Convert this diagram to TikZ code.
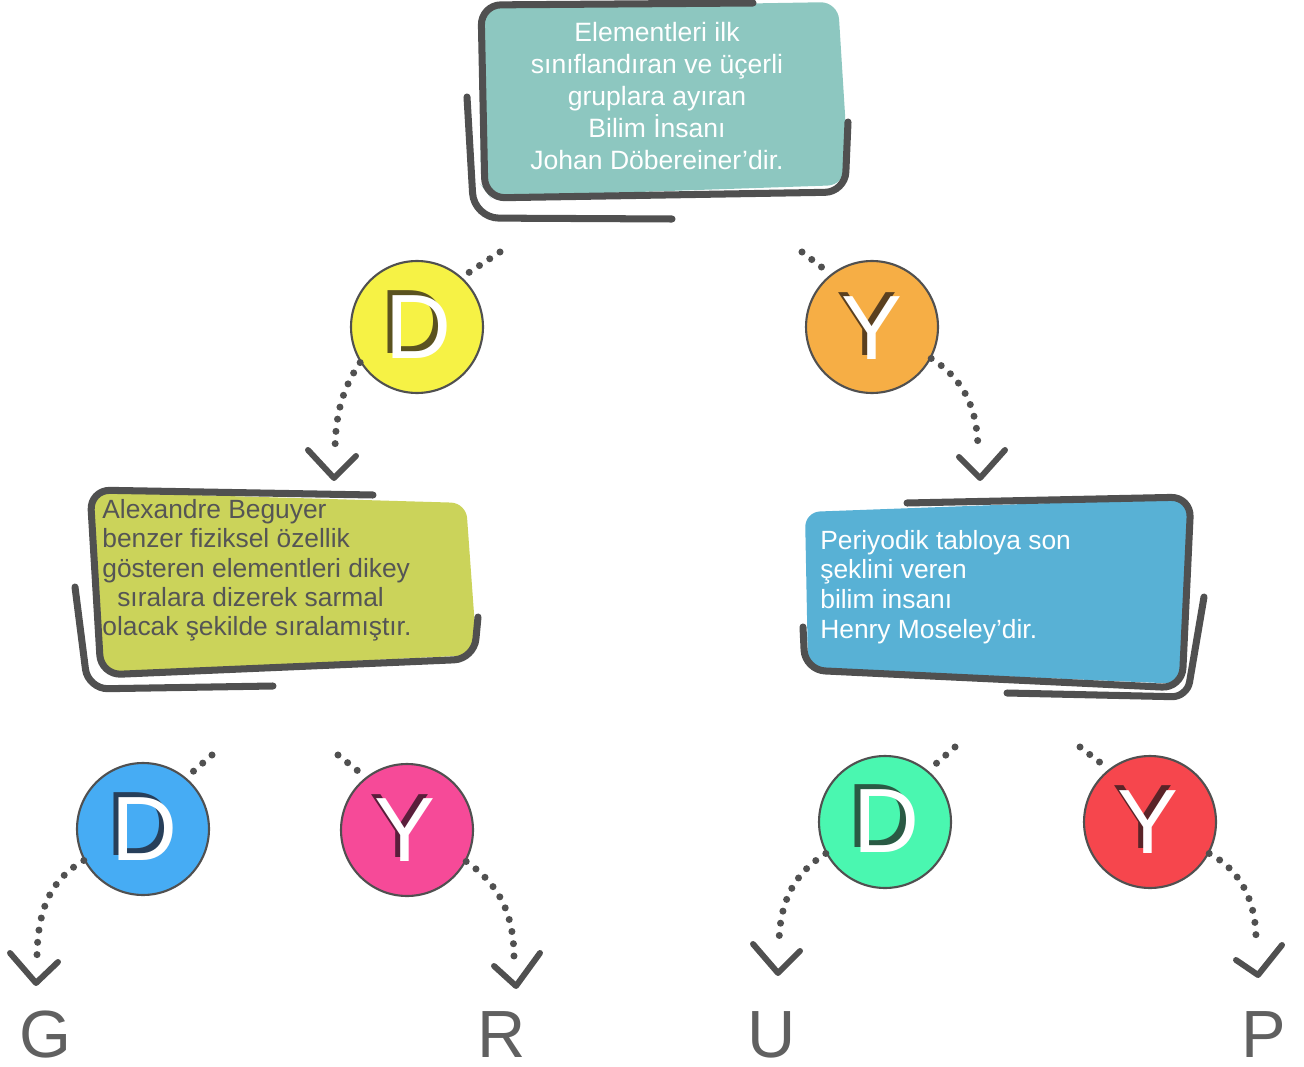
\documentclass[tikz,border=0pt]{standalone}
\usepackage{fontspec}
\setmainfont{Liberation Sans}
\definecolor{bordc}{HTML}{505050}
\definecolor{teal1}{HTML}{8DC7C0}
\definecolor{olive1}{HTML}{CBD35A}
\definecolor{blue1}{HTML}{58B1D5}
\definecolor{yel}{HTML}{F6F245}
\definecolor{ora}{HTML}{F6AE45}
\definecolor{blu}{HTML}{46ACF4}
\definecolor{pnk}{HTML}{F64A98}
\definecolor{grn}{HTML}{4AF7B0}
\definecolor{red1}{HTML}{F6464D}
\definecolor{shyel}{HTML}{5A5220}
\definecolor{shora}{HTML}{5A4020}
\definecolor{shblu}{HTML}{273F5A}
\definecolor{shpnk}{HTML}{5A1E3B}
\definecolor{shgrn}{HTML}{2A5A44}
\definecolor{shred}{HTML}{5A2428}
\definecolor{txtgray}{HTML}{555555}
\definecolor{letgray}{HTML}{606060}
\begin{document}
\begin{tikzpicture}[x=0.02cm,y=0.02cm,
  bordline/.style={draw=bordc, line width=4pt, line cap=round, line join=round, rounded corners=0.4cm},
  dotline/.style={draw=bordc, line width=4pt, line cap=round, dash pattern=on 0pt off 7pt},
  chev/.style={draw=bordc, line width=3.4pt, line cap=round, line join=round},
  bubble/.style={circle, draw=bordc, line width=1.2pt, minimum size=2.64cm, inner sep=0pt},
  letter/.style={font=\fontsize{52}{52}\selectfont, inner sep=0pt},
  endlet/.style={font=\fontsize{38}{38}\selectfont, text=letgray, inner sep=0pt},
  boxtext/.style={inner sep=0pt, font=\fontsize{15}{16.8}\selectfont}
]
\useasboundingbox (0,0) rectangle (1304,-1067);

% ---------- top box ----------
\fill[teal1, rounded corners=0.35cm] (479,-8) -- (838,-2) -- (846,-130) -- (845,-185) -- (490,-197) -- (481,-185) -- cycle;
\draw[bordline] (753,-3) -- (481,-5) -- (485,-198) -- (845,-192) -- (848,-122);
\draw[bordline, rounded corners=0.5cm] (467,-97) -- (474,-218) -- (672,-219);
\node[boxtext, text=white, align=center, anchor=north, font=\fontsize{15.1}{18.2}\selectfont] (tb1) at (657,-22)
  {Elementleri ilk\\ sınıflandıran ve üçerli\\ gruplara ayıran\\ Bilim İnsanı\\ Johan Döbereiner’dir.};

% ---------- left box ----------
\fill[olive1, rounded corners=0.3cm] (90,-492) -- (466,-503) -- (477,-655) -- (102,-673) -- cycle;
\draw[bordline] (373,-495) -- (90,-490) -- (101,-675) -- (474,-659) -- (478,-617);
\draw[bordline] (75,-587) -- (88,-689) -- (273,-686);
\node[boxtext, text=txtgray, align=left, anchor=north west, font=\fontsize{15}{16.7}\selectfont] (tb2) at (102,-499)
  {Alexandre Beguyer\\ benzer fiziksel özellik\\ gösteren elementleri dikey\\ \hspace*{8.5pt}sıralara dizerek sarmal\\ olacak şekilde sıralamıştır.};

% ---------- right box ----------
\fill[blue1, rounded corners=0.3cm] (805,-512) -- (1188,-498) -- (1184,-684) -- (808,-668) -- cycle;
\draw[bordline] (907,-503) -- (1191,-497) -- (1182,-688) -- (805,-670) -- (803,-627);
\draw[bordline, rounded corners=0.3cm] (1204,-597) -- (1187,-697) -- (1007,-693);
\node[boxtext, text=white, align=left, anchor=north west] (tb3) at (820,-530)
  {Periyodik tabloya son\\ şeklini veren\\ bilim insanı\\ Henry Moseley’dir.};

% ---------- circles ----------
\node[bubble, fill=yel] (c1) at (417,-327) {};
\node[bubble, fill=ora] (c2) at (872,-327) {};
\node[bubble, fill=blu] (c3) at (143,-829) {};
\node[bubble, fill=pnk] (c4) at (407,-830) {};
\node[bubble, fill=grn] (c5) at (885,-822) {};
\node[bubble, fill=red1] (c6) at (1150,-822) {};

\node[letter, text=shyel] (l1s) at (413,-322) {D};
\node[letter, text=white] (l1) at (418,-327) {D};
\node[letter, text=shora] (l2s) at (867,-324) {Y};
\node[letter, text=white] (l2) at (872,-328) {Y};
\node[letter, text=shblu] (l3s) at (139,-824) {D};
\node[letter, text=white] (l3) at (144,-829) {D};
\node[letter, text=shpnk] (l4s) at (400,-826) {Y};
\node[letter, text=white] (l4) at (405,-830) {Y};
\node[letter, text=shgrn] (l5s) at (880,-816) {D};
\node[letter, text=white] (l5) at (886,-821) {D};
\node[letter, text=shred] (l6s) at (1143,-817) {Y};
\node[letter, text=white] (l6) at (1148,-822) {Y};

% ---------- coordinates ----------
\coordinate (s1) at (500,-252);
\coordinate (s2) at (802,-252);
\coordinate (s3) at (212,-755);
\coordinate (s4) at (338,-755);
\coordinate (s5) at (955,-747);
\coordinate (s6) at (1080,-747);
\coordinate (e1) at (335,-453);
\coordinate (e2) at (978,-452);
\coordinate (e3) at (37,-955);
\coordinate (e4) at (514,-958);
\coordinate (e5) at (779,-942);
\coordinate (e6) at (1256,-940);

% ---------- dotted connectors ----------
\draw[dotline] (s1) -- (c1.48);
\draw[dotline] (s2) -- (c2.128);
\draw[dotline] (s3) -- (c3.50);
\draw[dotline] (s4) -- (c4.128);
\draw[dotline] (s5) -- (c5.50);
\draw[dotline] (s6) -- (c6.128);

\draw[dotline] (c1.212) .. controls (345,-385) and (335,-410) .. (e1);
\draw[dotline] (c2.-28) .. controls (965,-380) and (978,-410) .. (e2);
\draw[dotline] (c3.208) .. controls (50,-880) and (38,-910) .. (e3);
\draw[dotline] (c4.-28) .. controls (500,-885) and (514,-915) .. (e4);
\draw[dotline] (c5.208) .. controls (795,-873) and (780,-900) .. (e5);
\draw[dotline] (c6.-28) .. controls (1240,-870) and (1256,-900) .. (e6);

% ---------- chevrons ----------
\coordinate (t1) at (334,-478);
\coordinate (t2) at (980,-478);
\coordinate (t3) at (36,-983);
\coordinate (t4) at (516,-986);
\coordinate (t5) at (778,-973);
\coordinate (t6) at (1258,-975);
\draw[chev] (308,-450) -- (t1) -- (356,-456);
\draw[chev] (959,-457) -- (t2) -- (1005,-450);
\draw[chev] (10,-953) -- (t3) -- (58,-962);
\draw[chev] (494,-966) -- (t4) -- (540,-953);
\draw[chev] (753,-944) -- (t5) -- (800,-951);
\draw[chev] (1236,-960) -- (t6) -- (1282,-945);

% ---------- end letters ----------
\node[endlet] (g) at (45,-1035) {G};
\node[endlet] (r) at (502,-1035) {R};
\node[endlet] (u) at (772,-1035) {U};
\node[endlet] (p) at (1264,-1035) {P};
\end{tikzpicture}
\end{document}
